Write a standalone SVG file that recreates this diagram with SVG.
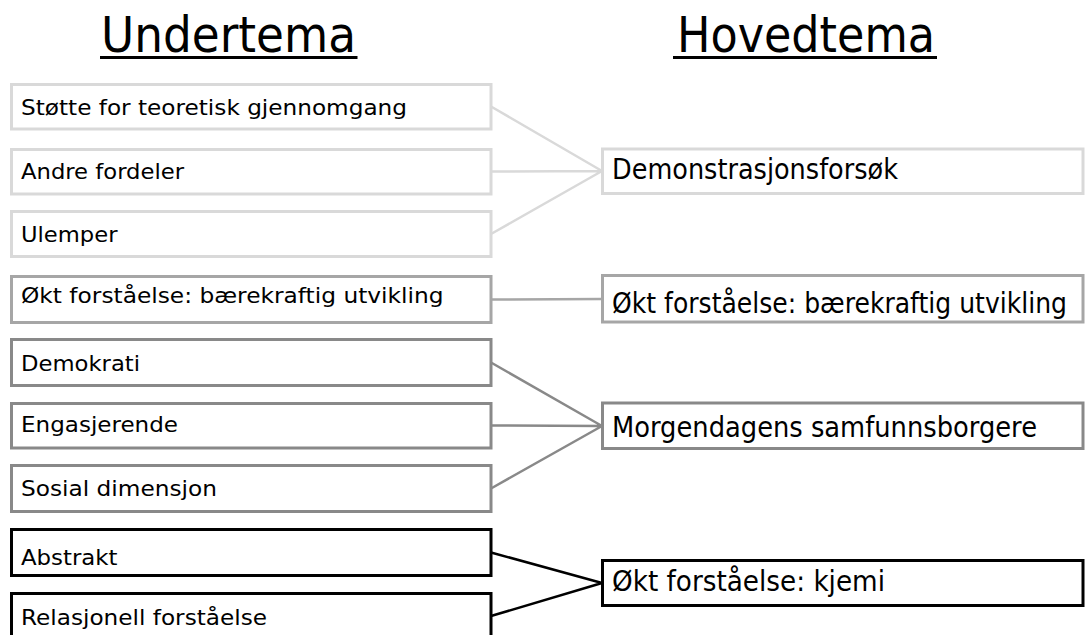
<svg xmlns="http://www.w3.org/2000/svg" width="1085" height="635" viewBox="0 0 1085 635">
  <style>
    .title { font-family: "DejaVu Sans", "Liberation Sans", sans-serif; font-size: 49px; fill: #000; }
    .lt { font-family: "DejaVu Sans", "Liberation Sans", sans-serif; font-size: 22px; fill: #000; }
    .rt { font-family: "DejaVu Sans", "Liberation Sans", sans-serif; font-size: 28px; fill: #000; }
    rect { fill: #fff; stroke-width: 3; }
    .g1 { stroke: #d9d9d9; }
    .g2 { stroke: #a6a6a6; }
    .g3 { stroke: #898989; }
    .g4 { stroke: #000; }
    .c { fill: none; stroke-width: 2.5; }
  </style>
  <rect x="0" y="0" width="1085" height="635" style="fill:#fff;stroke:none"/>

  <g id="titles">
    <text class="title" x="101" y="52" textLength="255" lengthAdjust="spacingAndGlyphs">Undertema</text>
    <line x1="100" y1="57.5" x2="357.5" y2="57.5" stroke="#000" stroke-width="3"/>
    <text class="title" x="677" y="52" textLength="258" lengthAdjust="spacingAndGlyphs">Hovedtema</text>
    <line x1="673" y1="57.5" x2="937" y2="57.5" stroke="#000" stroke-width="3"/>
  </g>

  <g id="connectors">
    <path class="c g1" d="M491,106.5 L602,171 M491,171.5 L602,171 M491,234 L602,171"/>
    <path class="c g2" d="M491,299.5 L602,299"/>
    <path class="c g3" d="M491,362.5 L602,426 M491,425.5 L602,426 M491,488.5 L602,426"/>
    <path class="c g4" d="M491,552.5 L602,583 M491,616 L602,583"/>
  </g>

  <g id="sub-stotte">
    <rect class="g1" x="11.5" y="84.5" width="479.5" height="44.5"/>
    <text class="lt" x="21" y="115" textLength="386" lengthAdjust="spacingAndGlyphs">Støtte for teoretisk gjennomgang</text>
  </g>
  <g id="sub-andre">
    <rect class="g1" x="11.5" y="149.5" width="479.5" height="44.5"/>
    <text class="lt" x="21" y="179" textLength="163" lengthAdjust="spacingAndGlyphs">Andre fordeler</text>
  </g>
  <g id="sub-ulemper">
    <rect class="g1" x="11.5" y="211.5" width="479.5" height="45"/>
    <text class="lt" x="21" y="242" textLength="96.5" lengthAdjust="spacingAndGlyphs">Ulemper</text>
  </g>
  <g id="sub-okt-baerekraft">
    <rect class="g2" x="11.5" y="276.5" width="479.5" height="46"/>
    <text class="lt" x="21" y="303" textLength="422.5" lengthAdjust="spacingAndGlyphs">Økt forståelse: bærekraftig utvikling</text>
  </g>
  <g id="sub-demokrati">
    <rect class="g3" x="11.5" y="339.5" width="479.5" height="46"/>
    <text class="lt" x="21" y="371" textLength="119" lengthAdjust="spacingAndGlyphs">Demokrati</text>
  </g>
  <g id="sub-engasjerende">
    <rect class="g3" x="11.5" y="403.5" width="479.5" height="44.5"/>
    <text class="lt" x="21" y="432" textLength="157" lengthAdjust="spacingAndGlyphs">Engasjerende</text>
  </g>
  <g id="sub-sosial">
    <rect class="g3" x="11.5" y="465.5" width="479.5" height="46"/>
    <text class="lt" x="21" y="496" textLength="196" lengthAdjust="spacingAndGlyphs">Sosial dimensjon</text>
  </g>
  <g id="sub-abstrakt">
    <rect class="g4" x="11.5" y="529.5" width="479.5" height="46"/>
    <text class="lt" x="21" y="565" textLength="96.5" lengthAdjust="spacingAndGlyphs">Abstrakt</text>
  </g>
  <g id="sub-relasjonell">
    <rect class="g4" x="11.5" y="593.5" width="479.5" height="46"/>
    <text class="lt" x="21" y="625" textLength="246" lengthAdjust="spacingAndGlyphs">Relasjonell forståelse</text>
  </g>

  <g id="main-demonstrasjon">
    <rect class="g1" x="602.5" y="149" width="480.5" height="44.5"/>
    <text class="rt" x="612" y="179" textLength="286" lengthAdjust="spacingAndGlyphs">Demonstrasjonsforsøk</text>
  </g>
  <g id="main-okt-baerekraft">
    <rect class="g2" x="602.5" y="275.5" width="480.5" height="46.5"/>
    <text class="rt" x="612" y="313" textLength="455" lengthAdjust="spacingAndGlyphs">Økt forståelse: bærekraftig utvikling</text>
  </g>
  <g id="main-morgendagens">
    <rect class="g3" x="602.5" y="403" width="480.5" height="45.5"/>
    <text class="rt" x="612" y="437" textLength="425" lengthAdjust="spacingAndGlyphs">Morgendagens samfunnsborgere</text>
  </g>
  <g id="main-kjemi">
    <rect class="g4" x="602.5" y="560.5" width="480.5" height="45"/>
    <text class="rt" x="612" y="590.5" textLength="273" lengthAdjust="spacingAndGlyphs">Økt forståelse: kjemi</text>
  </g>
</svg>
